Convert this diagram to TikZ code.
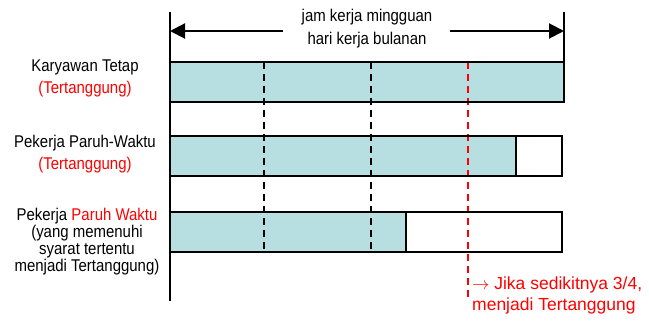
\documentclass[tikz,border=0pt]{standalone}
\usepackage{fontspec}
\setmainfont{Liberation Sans}[FakeStretch=0.88]
\newfontfamily\notefont{Liberation Sans}
\usetikzlibrary{arrows.meta}
\definecolor{barfill}{RGB}{183,223,226}
\definecolor{tred}{RGB}{255,0,0}
\begin{document}
\begin{tikzpicture}[x=1pt,y=-1pt]
	\tikzstyle{bar} = [draw, line width=2pt];
	\tikzstyle{plain} = [draw=none,fill=none,inner sep=0pt,align=center];
	\tikzstyle{guide} = [line width=1.6pt, dash pattern=on 7pt off 5pt];
	\def\fs{\fontsize{17}{22}\selectfont}
	\useasboundingbox (0,0) rectangle (649,321);
	% axis and width arrows
	\coordinate (top) at (170,12);
	\coordinate (bottom) at (170,301);
	\coordinate (rtop) at (564,12);
	\coordinate (rbot) at (564,62);
	\draw[line width=2pt] (top) -- (bottom);
	\draw[line width=2pt] (rtop) -- (rbot);
	\node[plain,font=\fs] (head) at (367,29) {jam kerja mingguan\\[1pt]hari kerja bulanan};
	\coordinate (ltail) at (283,31);
	\coordinate (ltip) at (170,31);
	\coordinate (rtail) at (450,31);
	\coordinate (rtip) at (564,31);
	\draw[line width=2pt,-{Triangle[length=15pt,width=15pt]}] (ltail) -- (ltip);
	\draw[line width=2pt,-{Triangle[length=15pt,width=15pt]}] (rtail) -- (rtip);
	% bars
	\foreach \name/\yt/\xf/\xe in {one/62/564/564, two/136/516/562, three/212/406/562}
	{
		\fill[white] (170,\yt) rectangle (\xe,\yt+40);
		\fill[barfill] (170,\yt) rectangle (\xf,\yt+40);
	}
	% guide lines
	\coordinate (q1t) at (264,62);
	\coordinate (q1b) at (264,252);
	\coordinate (q2t) at (371,62);
	\coordinate (q2b) at (371,252);
	\coordinate (q3t) at (468,62);
	\coordinate (q3b) at (468,298);
	\draw[guide] (q1t) -- (q1b);
	\draw[guide] (q2t) -- (q2b);
	\draw[guide,tred] (q3t) -- (q3b);
	\foreach \name/\yt/\xf/\xe in {one/62/564/564, two/136/516/562, three/212/406/562}
	{
		\draw[bar] (170,\yt) rectangle (\xe,\yt+40);
		\draw[line width=1.6pt] (\xf,\yt) -- (\xf,\yt+40);
	}
	% labels
	\node[plain,font=\fs] (tetap) at (85,78) {Karyawan Tetap\\{\color{tred}(Tertanggung)}};
	\node[plain,font=\fs] (paruh) at (85,154) {Pekerja Paruh-Waktu\\{\color{tred}(Tertanggung)}};
	\node[plain,font=\fontsize{17}{17}\selectfont] (syarat) at (87,242) {Pekerja {\color{tred}Paruh Waktu}\\(yang memenuhi\\syarat tertentu\\menjadi Tertanggung)};
	\node[plain,font=\notefont\fontsize{17.5}{21}\selectfont,text=tred,align=left,anchor=west] (note) at (472,295) {$\rightarrow$ Jika sedikitnya 3/4,\\menjadi Tertanggung};
\end{tikzpicture}
\end{document}
